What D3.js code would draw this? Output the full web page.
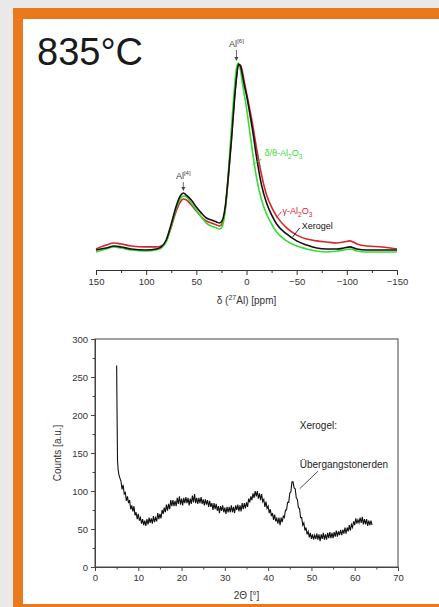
<!DOCTYPE html>
<html>
<head>
<meta charset="utf-8">
<script src="https://cdn.jsdelivr.net/npm/d3@7"></script>
<style>
  body { margin: 0; background: #e9e9e9; }
  svg { display: block; font-family: "Liberation Sans", Arial, sans-serif; }
</style>
</head>
<body>
<svg id="chart" width="439" height="607"></svg>
<script>
// ---- NMR-Spektren (27Al), Intensität normiert ----
const ppm = [150, 140, 132, 125, 115, 100, 90, 85, 80, 75, 70, 66, 63, 60, 55, 50, 45, 40, 35, 30, 27, 24, 21, 18, 15, 12, 10, 8, 6, 4, 2, 0,
  -3, -6, -10, -15, -20, -25, -30, -40, -50, -60, -70, -80, -90, -97, -103, -110, -120, -135, -150];
const xerogel = [1.1, 2.1, 3.2, 2.7, 1.6, 1.1, 1.6, 2.7, 6.4, 14.9, 24.5, 29.8, 31.4, 30.3, 27.7, 23.9, 20.7, 18.1, 17.0, 16.0, 15.4, 17.0, 25.0, 41.0, 59.6, 80.9, 92.6, 100, 98.9, 94.1, 88.3, 83.5,
  74.5, 64.9, 50.5, 35.6, 26.1, 19.7, 14.9, 9.6, 5.9, 3.7, 2.1, 1.6, 1.6, 2.1, 2.7, 1.6, 1.1, 1.1, 1.1];
const gamma = [1.6, 3.7, 4.8, 4.3, 3.2, 2.7, 2.7, 3.2, 5.9, 13.3, 21.8, 26.6, 28.2, 27.7, 25.0, 21.8, 18.6, 16.5, 15.4, 14.4, 13.8, 15.4, 23.4, 40.4, 60.6, 81.9, 93.1, 99.5, 99.5, 95.7, 89.9, 84.6,
  76.6, 68.1, 55.3, 41.0, 30.3, 23.9, 19.1, 12.8, 9.0, 6.9, 5.9, 5.3, 4.8, 5.3, 5.9, 4.3, 3.2, 2.7, 1.6];
const deltaTheta = [0, 1.6, 2.7, 2.1, 1.1, 0.5, 1.1, 2.1, 5.3, 13.8, 23.4, 28.2, 29.8, 29.3, 26.1, 22.3, 18.6, 15.4, 13.8, 12.8, 12.2, 13.8, 23.4, 42.6, 66.0, 87.2, 97.9, 100.5, 96.8, 89.4, 83.0, 76.6,
  64.9, 53.2, 39.4, 27.7, 20.2, 14.9, 10.6, 5.9, 3.2, 1.6, 0.5, 0, 0.5, 1.1, 1.6, 0.5, 0, 0, 0];
const nmrTicks = [150, 100, 50, 0, -50, -100, -150];

// ---- XRD Xerogel (ab 6° alle 0,25°) ----
const xrdSpikeAngle = [5.0, 5.1, 5.2, 5.35, 5.5, 5.75];
const xrdSpikeCounts = [265, 200, 140, 128, 122, 117];
const xrdCounts = [
  113, 102, 108, 96, 98, 87, 93, 84, 88, 76, 81, 73, 80, 68, 72, 63, 70, 61, 65, 57,
  63, 55, 61, 54, 63, 56, 65, 58, 64, 57, 67, 59, 65, 60, 71, 63, 70, 64, 75, 70,
  78, 72, 82, 74, 83, 76, 88, 80, 88, 80, 87, 80, 91, 83, 93, 82, 90, 81, 91, 84,
  92, 84, 91, 81, 90, 83, 94, 85, 96, 84, 91, 83, 91, 84, 92, 83, 89, 81, 89, 82,
  88, 79, 87, 79, 84, 75, 84, 76, 83, 74, 80, 71, 80, 74, 81, 72, 78, 70, 79, 72,
  79, 72, 81, 72, 79, 71, 81, 75, 82, 73, 81, 73, 84, 76, 84, 77, 85, 79, 90, 85,
  93, 88, 97, 91, 100, 93, 100, 90, 97, 88, 96, 86, 89, 79, 86, 77, 80, 71, 76, 67,
  71, 62, 69, 60, 64, 57, 65, 55, 65, 59, 67, 65, 75, 75, 85, 85, 97, 99, 112, 112,
  104, 103, 91, 89, 78, 77, 65, 65, 55, 58, 48, 52, 43, 47, 39, 45, 37, 43, 36, 42,
  37, 44, 36, 43, 34, 43, 37, 45, 36, 43, 36, 45, 38, 46, 38, 45, 38, 46, 40, 48,
  40, 47, 42, 49, 42, 49, 44, 52, 44, 52, 47, 55, 48, 56, 52, 60, 55, 64, 57, 62,
  58, 65, 58, 66, 56, 63, 56, 63, 54, 61, 55, 61, 55];
const xrdXTicks = [0, 10, 20, 30, 40, 50, 60, 70];
const xrdYTicks = [0, 50, 100, 150, 200, 250, 300];

const svg = d3.select("#chart");

// Rahmen
svg.append("rect").attr("width", 439).attr("height", 607).attr("fill", "#e9e9e9");
svg.append("rect").attr("x", 13).attr("y", 8).attr("width", 426).attr("height", 599).attr("fill", "#e8791d");
svg.append("rect").attr("x", 23).attr("y", 19).attr("width", 416).attr("height", 585).attr("fill", "#ffffff");

svg.append("text").attr("x", 37).attr("y", 65)
  .style("font-size", "38px").style("fill", "#1a1a1a")
  .text("835°C");

//////////////// NMR //////////////////
const xN = d3.scaleLinear().domain([150, -150]).range([96, 397]);
const yN = d3.scaleLinear().domain([0, 100]).range([252, 64]);

const lineN = d3.line()
  .x((d, i) => xN(ppm[i]))
  .y(d => yN(d))
  .curve(d3.curveMonotoneX);

const seriesN = [
  { data: gamma, color: "#d8262a" },
  { data: deltaTheta, color: "#35dc35" },
  { data: xerogel, color: "#111111" }
];
svg.append("g").selectAll("path")
  .data(seriesN)
  .enter()
  .append("path")
  .attr("d", d => lineN(d.data))
  .attr("fill", "none")
  .attr("stroke", d => d.color)
  .attr("stroke-width", 1.6);

const axN = svg.append("g").attr("transform", "translate(0,270)")
  .call(d3.axisBottom(xN).tickValues(nmrTicks).tickSize(5).tickPadding(3).tickFormat(d3.format("d")));
axN.append("g").call(d3.axisBottom(xN).tickValues(d3.range(125, -150, -50)).tickSize(3).tickFormat(""));
svg.selectAll(".domain").attr("stroke", "#333");
axN.selectAll("line").attr("stroke", "#333");
axN.selectAll("text").style("font-size", "9.5px").style("fill", "#333").style("font-family", "Liberation Sans, Arial");

const titleN = svg.append("text").attr("x", xN(0)).attr("y", 304)
  .attr("text-anchor", "middle").style("font-size", "10px").style("fill", "#333");
titleN.append("tspan").text("δ (");
titleN.append("tspan").attr("dy", -4).style("font-size", "7px").text("27");
titleN.append("tspan").attr("dy", 4).text("Al) [ppm]");

// Beschriftungen der Peaks
function alLabel(ppmPos, labelY, sup, tipY) {
  const t = svg.append("text").attr("x", xN(ppmPos)).attr("y", labelY)
    .attr("text-anchor", "middle").style("font-size", "9px").style("fill", "#444");
  t.append("tspan").text("Al");
  t.append("tspan").attr("dy", -4).style("font-size", "6px").text("[" + sup + "]");
  svg.append("line").attr("x1", xN(ppmPos)).attr("x2", xN(ppmPos))
    .attr("y1", labelY + 3).attr("y2", tipY - 2).attr("stroke", "#444").attr("stroke-width", 0.8);
  svg.append("path")
    .attr("d", `M${xN(ppmPos) - 2},${tipY - 4} L${xN(ppmPos) + 2},${tipY - 4} L${xN(ppmPos)},${tipY} Z`)
    .attr("fill", "#444");
}
alLabel(10, 47, 6, 61);
alLabel(63, 179, 4, 191);

function phaseLabel(ppmText, yText, ppm1, i1, ppm2, i2, color, parts) {
  svg.append("line")
    .attr("x1", xN(ppm1)).attr("y1", yN(i1))
    .attr("x2", xN(ppm2)).attr("y2", yN(i2))
    .attr("stroke", color).attr("stroke-width", 0.9);
  const t = svg.append("text").attr("x", xN(ppmText)).attr("y", yN(yText))
    .style("font-size", "9px").style("fill", color);
  parts.forEach(p => {
    t.append("tspan").attr("dy", p[1]).style("font-size", p[2] || "9px").text(p[0]);
  });
}
phaseLabel(-18, 51, -15, 49.5, -6, 46.3, "#35dc35",
  [["δ/θ-Al", 0], ["2", 3, "6.5px"], ["O", -3], ["3", 3, "6.5px"]]);
phaseLabel(-36, 20.2, -35, 21.5, -30, 18.4, "#d8262a",
  [["γ-Al", 0], ["2", 3, "6.5px"], ["O", -3], ["3", 3, "6.5px"]]);
phaseLabel(-55, 12.2, -53, 12.8, -46, 8.0, "#111111",
  [["Xerogel", 0]]);

//////////////// XRD //////////////////
const xX = d3.scaleLinear().domain([0, 70]).range([95, 398]);
const yX = d3.scaleLinear().domain([0, 300]).range([567, 339]);

const xrdAngle = xrdSpikeAngle.concat(d3.range(6, 64.001, 0.25));
const xrdAll = xrdSpikeCounts.concat(xrdCounts);

svg.append("rect").attr("x", xX(0)).attr("y", yX(300))
  .attr("width", xX(70) - xX(0)).attr("height", yX(0) - yX(300))
  .attr("fill", "none").attr("stroke", "#444").attr("stroke-width", 1);

const axX = svg.append("g").attr("transform", `translate(0,${yX(0)})`)
  .call(d3.axisBottom(xX).tickValues(xrdXTicks).tickSize(4).tickPadding(3));
axX.append("g").call(d3.axisBottom(xX).tickValues(d3.range(5, 70, 10)).tickSize(2.5).tickFormat(""));
const axY = svg.append("g").attr("transform", `translate(${xX(0)},0)`)
  .call(d3.axisLeft(yX).tickValues(xrdYTicks).tickSize(4).tickPadding(3));
axY.append("g").call(d3.axisLeft(yX).tickValues(d3.range(25, 300, 50)).tickSize(2.5).tickFormat(""));
[axX, axY].forEach(a => {
  a.selectAll(".domain").attr("stroke", "#444");
  a.selectAll("line").attr("stroke", "#444");
  a.selectAll("text").style("font-size", "9.5px").style("fill", "#333").style("font-family", "Liberation Sans, Arial");
});

const lineX = d3.line()
  .x((d, i) => xX(xrdAngle[i]))
  .y(d => yX(d));
svg.append("path")
  .attr("d", lineX(xrdAll))
  .attr("fill", "none")
  .attr("stroke", "#111")
  .attr("stroke-width", 1.1);

svg.append("text").attr("transform", `translate(61,${yX(150)}) rotate(-90)`)
  .attr("text-anchor", "middle").style("font-size", "10px").style("fill", "#333")
  .text("Counts [a.u.]");
svg.append("text").attr("x", xX(35)).attr("y", 599)
  .attr("text-anchor", "middle").style("font-size", "10px").style("fill", "#333")
  .text("2Θ [°]");

svg.append("text").attr("x", xX(47.3)).attr("y", yX(182))
  .style("font-size", "10px").style("fill", "#222").text("Xerogel:");
svg.append("text").attr("x", xX(47.3)).attr("y", yX(130))
  .style("font-size", "10px").style("fill", "#222").text("Übergangstonerden");
svg.append("line")
  .attr("x1", xX(51.5)).attr("y1", yX(126))
  .attr("x2", xX(47.3)).attr("y2", yX(103))
  .attr("stroke", "#222").attr("stroke-width", 0.8);
</script>
</body>
</html>
